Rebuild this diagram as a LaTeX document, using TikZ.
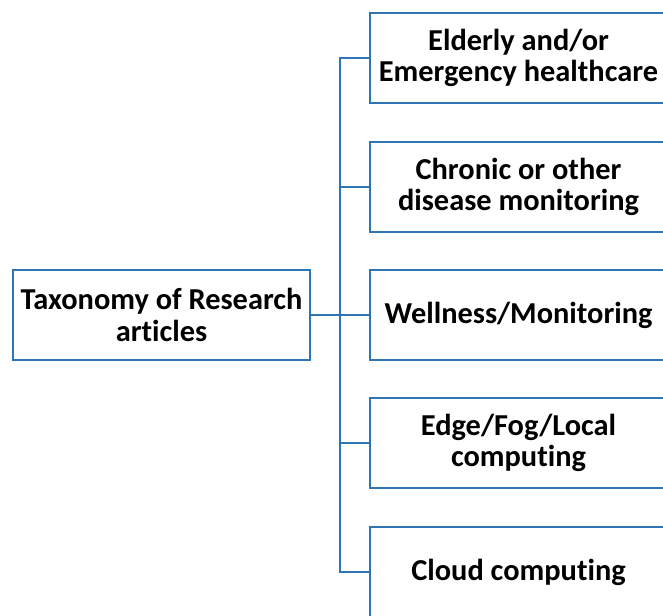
\documentclass[tikz,border=0pt]{standalone}
\usepackage{fontspec}
\setmainfont{Carlito}[Ligatures=NoCommon]
\usepackage{tikz}
\definecolor{boxblue}{HTML}{2E75B6}

\begin{document}
\begin{tikzpicture}[x=0.75pt, y=-0.75pt,
    catbox/.style={draw=boxblue, line width=1.5pt, fill=white, align=center,
        minimum width=222.75pt, minimum height=67.5pt, inner sep=2pt,
        font=\bfseries\fontsize{22.8}{23.5}\selectfont},
    link/.style={draw=boxblue, line width=1.5pt}]
    \useasboundingbox (0,0) rectangle (663,615);
    \clip (0,0) rectangle (663,615);
    \node[catbox] (tax) at (161.5, 315) {Taxonomy of Research\\articles};
    \node[catbox] (c1) at (518.5, 58) {Elderly and/or\\Emergency healthcare};
    \node[catbox] (c2) at (518.5, 187) {Chronic or other\\disease monitoring};
    \node[catbox] (c3) at (518.5, 315) {Wellness/Monitoring};
    \node[catbox] (c4) at (518.5, 443) {Edge/Fog/Local\\computing};
    \node[catbox] (c5) at (518.5, 572) {Cloud computing};
    \coordinate (bus) at (340, 315);
    \draw[link] (tax) -- (bus);
    \draw[link] (bus) |- (c1.west);
    \draw[link] (bus) |- (c2.west);
    \draw[link] (bus) -- (c3);
    \draw[link] (bus) |- (c4.west);
    \draw[link] (bus) |- (c5.west);
\end{tikzpicture}
\end{document}
